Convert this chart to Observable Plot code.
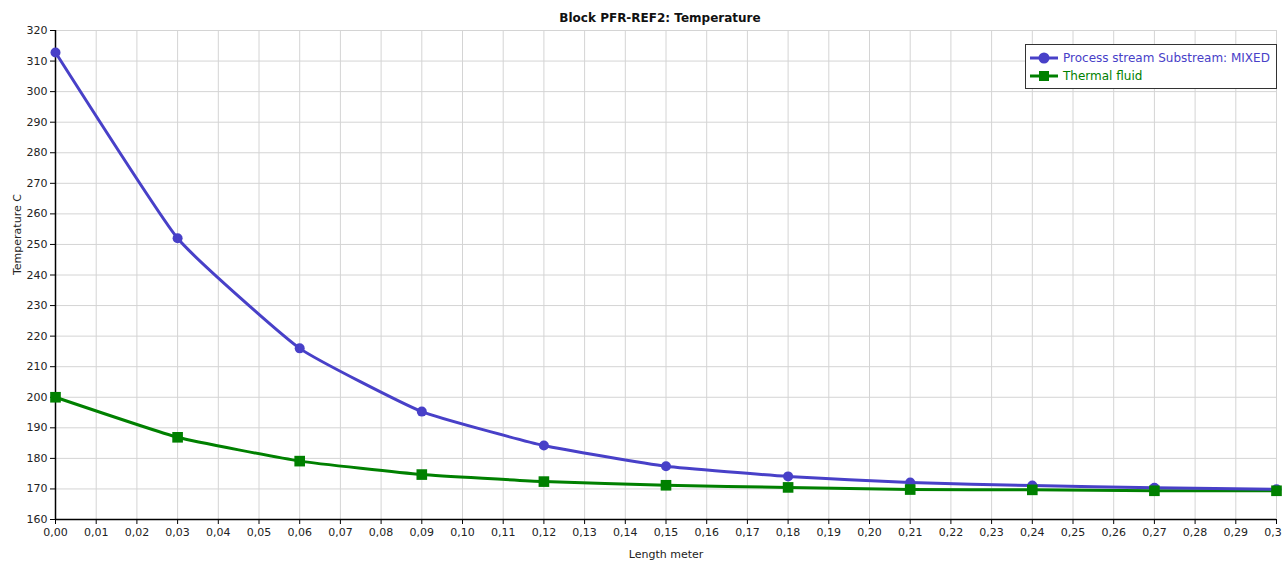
<!DOCTYPE html>
<html>
<head>
<meta charset="utf-8">
<script src="https://cdn.jsdelivr.net/npm/d3@7"></script>
<script src="https://cdn.jsdelivr.net/npm/@observablehq/plot@0.6"></script>
<style>
  html, body { margin: 0; padding: 0; background: #fff; }
  #wrap { position: relative; width: 1282px; height: 561px; font-family: "DejaVu Sans", Verdana, sans-serif; }
  #title { height: 22px; line-height: 36px; text-align: center; font-weight: bold; font-size: 12px; color: #111; padding-left: 38px; box-sizing: border-box; }
  #legend { position: absolute; left: 1025px; top: 44px; width: 252px; height: 45px; border: 1px solid #333; background: #fff; font-size: 12px; box-sizing: border-box; padding-top: 4px; }
  .row { display: flex; align-items: center; height: 18px; }
  .row svg { margin-left: 3px; margin-right: 4px; }
</style>
</head>
<body>
<div id="wrap">
  <div id="title">Block PFR-REF2: Temperature</div>
  <div id="chart"></div>
  <div id="legend"></div>
</div>
<script>
const lengths = [0.00, 0.03, 0.06, 0.09, 0.12, 0.15, 0.18, 0.21, 0.24, 0.27, 0.30];
const processTemp = [312.8, 252.0, 216.0, 195.3, 184.2, 177.4, 174.1, 172.1, 171.1, 170.4, 169.9];
const thermalTemp = [200.0, 186.9, 179.1, 174.7, 172.4, 171.2, 170.5, 169.8, 169.7, 169.4, 169.4];
const seriesNames = ["Process stream Substream: MIXED", "Thermal fluid"];
const seriesColors = ["#4840c8", "#008000"];
const xTicks = d3.range(31).map(i => i / 100);
const yTicks = d3.range(160, 321, 10);

const rows = [];
lengths.forEach((x, i) => {
  rows.push({x, y: processTemp[i], s: seriesNames[0]});
  rows.push({x, y: thermalTemp[i], s: seriesNames[1]});
});
const proc = rows.filter(d => d.s === seriesNames[0]);
const therm = rows.filter(d => d.s === seriesNames[1]);
const fmt = d => d.toFixed(2).replace(".", ",");

const chart = Plot.plot({
  width: 1282,
  height: 539,
  marginLeft: 55,
  marginRight: 6,
  marginTop: 8,
  marginBottom: 42,
  style: { fontFamily: "DejaVu Sans, Verdana, sans-serif", fontSize: "11px", color: "#222", background: "#fff" },
  x: { domain: [0, 0.30] },
  y: { domain: [160, 320] },
  marks: [
    Plot.gridX(xTicks, { stroke: "#d4d4d4", strokeOpacity: 1, strokeWidth: 1 }),
    Plot.gridY(yTicks, { stroke: "#d4d4d4", strokeOpacity: 1, strokeWidth: 1 }),
    Plot.axisX(xTicks, { tickFormat: fmt, tickSize: 5, tickPadding: 4, label: null, fill: "#222", stroke: "#000" }),
    Plot.axisY(yTicks, { tickSize: 5, tickPadding: 3, label: null, fill: "#222", stroke: "#000" }),
    Plot.ruleX([0], { stroke: "#000", strokeWidth: 1.5 }),
    Plot.ruleY([160], { stroke: "#000", strokeWidth: 1.5 }),
    Plot.line(therm, { x: "x", y: "y", stroke: seriesColors[1], strokeWidth: 3, curve: "cardinal", tension: 0.6 }),
    Plot.line(proc, { x: "x", y: "y", stroke: seriesColors[0], strokeWidth: 3, curve: "cardinal", tension: 0.6 }),
    Plot.dot(proc, { x: "x", y: "y", r: 5, fill: seriesColors[0], stroke: "none", symbol: "circle" }),
    Plot.dot(therm, { x: "x", y: "y", r: 6, fill: seriesColors[1], stroke: "none", symbol: "square" }),
    Plot.text(["Length meter"], { frameAnchor: "bottom", dy: 38, fill: "#222", fontSize: 11 }),
    Plot.text(["Temperature C"], { frameAnchor: "left", dx: -38, rotate: -90, fill: "#222", fontSize: 11 })
  ]
});
document.getElementById("chart").appendChild(chart);

const legend = document.getElementById("legend");
seriesNames.forEach((name, i) => {
  const row = document.createElement("div");
  row.className = "row";
  const sym = i === 0
    ? `<circle cx="15" cy="8" r="5.5" fill="${seriesColors[i]}"/>`
    : `<rect x="10" y="3" width="10" height="10" fill="${seriesColors[i]}"/>`;
  row.innerHTML = `<svg width="30" height="16"><line x1="1" x2="29" y1="8" y2="8" stroke="${seriesColors[i]}" stroke-width="3"/>${sym}</svg><span style="color:${seriesColors[i]}">${name}</span>`;
  legend.appendChild(row);
});
</script>
</body>
</html>
